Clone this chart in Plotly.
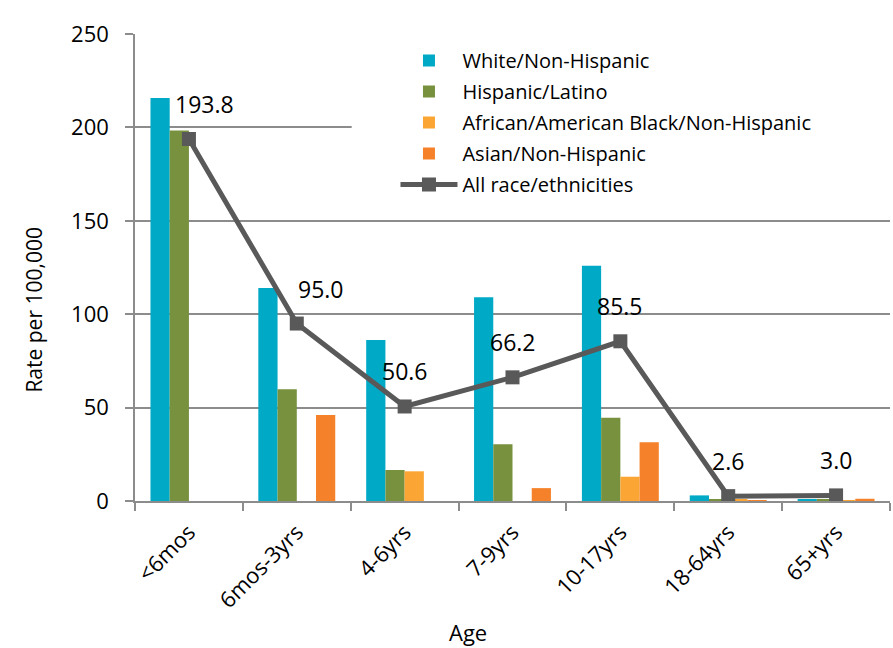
import plotly.graph_objects as go

categories = ["<6mos", "6mos-3yrs", "4-6yrs", "7-9yrs", "10-17yrs", "18-64yrs", "65+yrs"]
white_nh = [215.7, 114.0, 86.2, 109.1, 126.0, 3.0, 1.0]
hispanic = [198.3, 59.8, 16.6, 30.4, 44.5, 0.6, 0.9]
black_nh = [0, 0, 15.9, 0, 13.0, 0.8, 0.3]
asian_nh = [0, 46.1, 0, 6.9, 31.5, 0.5, 1.2]
all_race = [193.8, 95.0, 50.6, 66.2, 85.5, 2.6, 3.0]
label_xshift = [16, 24, 0, 0, 0, 0, 0]

series_names = ["White/Non-Hispanic", "Hispanic/Latino",
                "African/American Black/Non-Hispanic", "Asian/Non-Hispanic"]
series_vals = [white_nh, hispanic, black_nh, asian_nh]
series_colors = ["#00A9C6", "#77913F", "#FBA634", "#F5822A"]
line_color = "#595959"
grid_color = "#8C8C8C"
FONT = "Open Sans"

fig = go.Figure()
for name, vals, col in zip(series_names, series_vals, series_colors):
    fig.add_trace(go.Bar(x=categories, y=vals, name=name, marker_color=col,
                         marker_line_width=0, legendgroup=name))

fig.add_trace(go.Scatter(x=categories, y=all_race, name="All race/ethnicities",
                         mode="lines+markers", legendgroup="all",
                         line=dict(color=line_color, width=5),
                         marker=dict(symbol="square", size=14, color=line_color)))

for c, v, xs in zip(categories, all_race, label_xshift):
    fig.add_annotation(x=c, y=v, text=f"{v:.1f}", showarrow=False,
                       yshift=35, xshift=xs,
                       font=dict(family=FONT, size=23, color="black"))

fig.add_annotation(text="Rate per 100,000", xref="paper", yref="paper",
                   x=-0.135, y=0.41, xanchor="center", yanchor="middle",
                   textangle=-90, showarrow=False,
                   font=dict(family=FONT, size=21, color="black"))
fig.add_annotation(text="Age", xref="paper", yref="paper",
                   x=0.441, y=-0.28, xanchor="center", yanchor="middle",
                   showarrow=False,
                   font=dict(family=FONT, size=22, color="black"))

# white legend-box background (hides gridlines behind the legend area)
fig.add_shape(type="rect", xref="paper", yref="paper",
              x0=0.287, x1=1.0, y0=0.63, y1=0.982,
              fillcolor="white", line_width=0, layer="above")

fig.update_layout(
    width=893, height=648,
    margin=dict(l=135, r=3, t=34, b=147),
    paper_bgcolor="white", plot_bgcolor="white",
    barmode="group", bargap=0.287, bargroupgap=0,
    font=dict(family=FONT, size=20, color="black"),
    showlegend=True,
    legend=dict(x=0.345, y=0.985, xanchor="left", yanchor="top",
                bgcolor="white", borderwidth=0, itemwidth=57,
                traceorder="grouped", tracegroupgap=2,
                font=dict(family=FONT, size=20, color="black")),
)
fig.update_xaxes(type="category", tickson="boundaries", ticks="outside",
                 ticklen=8, tickcolor=grid_color, tickwidth=1.5,
                 showline=True, linecolor=grid_color, linewidth=1.5,
                 tickangle=-45, showgrid=False, ticklabelstandoff=8,
                 tickfont=dict(family=FONT, size=22, color="black"))
fig.update_yaxes(range=[0, 250], dtick=50, ticks="outside", ticklen=8,
                 tickcolor=grid_color, tickwidth=1.5,
                 showline=True, linecolor=grid_color, linewidth=1.5,
                 showgrid=True, gridcolor=grid_color, gridwidth=1.5,
                 zeroline=False, ticklabelstandoff=12,
                 tickfont=dict(family=FONT, size=22, color="black"))

fig.write_html("out.html")
